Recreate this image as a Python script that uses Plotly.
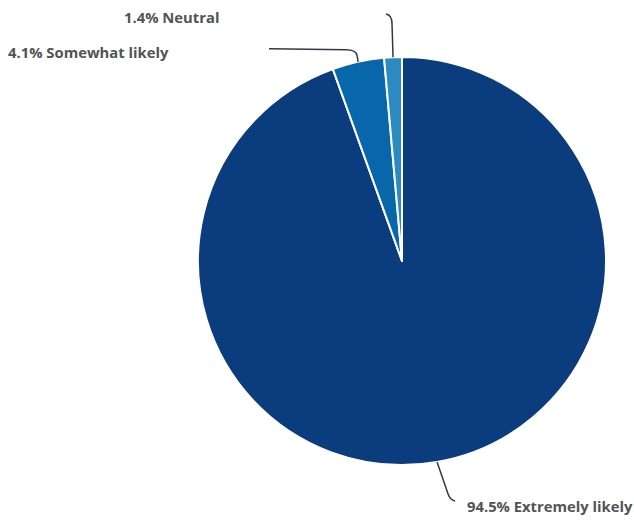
import math
import plotly.graph_objects as go

labels = ["Extremely likely", "Somewhat likely", "Neutral"]
values = [94.5, 4.1, 1.4]
colors = ["#0b3d7e", "#0867ab", "#2b8bc0"]

W, H = 634, 521
OFF = 0
cx, cy, R = 402, 261, 204

def px(x):
    return (x - OFF) / W

def py(y):
    return 1 - (y - OFF) / H

fig = go.Figure(go.Pie(
    labels=labels, values=values, sort=False, direction="clockwise", rotation=0,
    marker=dict(colors=colors, line=dict(color="white", width=2)),
    textinfo="none", hoverinfo="label+percent",
    domain=dict(x=[px(cx - R), px(cx + R)], y=[py(cy + R), py(cy - R)]),
))

total = sum(values)
mids = []
acc = 0
for v in values:
    mids.append((acc + v / 2) / total * 2 * math.pi)
    acc += v
anchors = [(cx + R * math.sin(a), cy - R * math.cos(a)) for a in mids]

shapes = []
annos = []
line_style = dict(color="#2e3a4b", width=1.5)
font = dict(family="'Open Sans', sans-serif", size=14.8, color="#535353")

x0, y0 = anchors[0]
path = (f"M {px(x0)},{py(y0)} L {px(x0 + 11)},{py(y0 + 32)} "
        f"Q {px(x0 + 13)},{py(y0 + 38)} {px(x0 + 18)},{py(y0 + 39)}")
shapes.append(dict(type="path", path=path, xref="paper", yref="paper", line=line_style))
annos.append(dict(x=px(x0 + 28), y=py(506), xref="paper", yref="paper", showarrow=False,
                  text="<b>%.1f%% %s</b>" % (values[0], labels[0]), xanchor="left",
                  yanchor="middle", font=font))

x1, y1 = anchors[1]
path = (f"M {px(x1)},{py(y1)} L {px(x1 - 1)},{py(y1 - 6)} "
        f"Q {px(x1 - 2)},{py(y1 - 12)} {px(x1 - 12)},{py(y1 - 12)} L {px(269)},{py(y1 - 13)}")
shapes.append(dict(type="path", path=path, xref="paper", yref="paper", line=line_style))
annos.append(dict(x=px(171), y=py(52), xref="paper", yref="paper", showarrow=False,
                  text="<b>%.1f%% %s</b>" % (values[1], labels[1]), xanchor="right",
                  yanchor="middle", font=font))

x2, y2 = anchors[2]
path = (f"M {px(x2)},{py(y2)} L {px(x2 - 1)},{py(24)} "
        f"Q {px(x2 - 1)},{py(15)} {px(x2 - 7)},{py(14)}")
shapes.append(dict(type="path", path=path, xref="paper", yref="paper", line=line_style))
annos.append(dict(x=px(221), y=py(17), xref="paper", yref="paper", showarrow=False,
                  text="<b>%.1f%% %s</b>" % (values[2], labels[2]), xanchor="right",
                  yanchor="middle", font=font))

fig.update_layout(
    width=W, height=H, margin=dict(l=0, r=0, t=0, b=0),
    paper_bgcolor="white", plot_bgcolor="white", showlegend=False,
    shapes=shapes, annotations=annos,
)
fig.write_html("out.html", config={"displayModeBar": False},
               post_script="document.body.style.margin='0';document.body.style.overflow='hidden';")
